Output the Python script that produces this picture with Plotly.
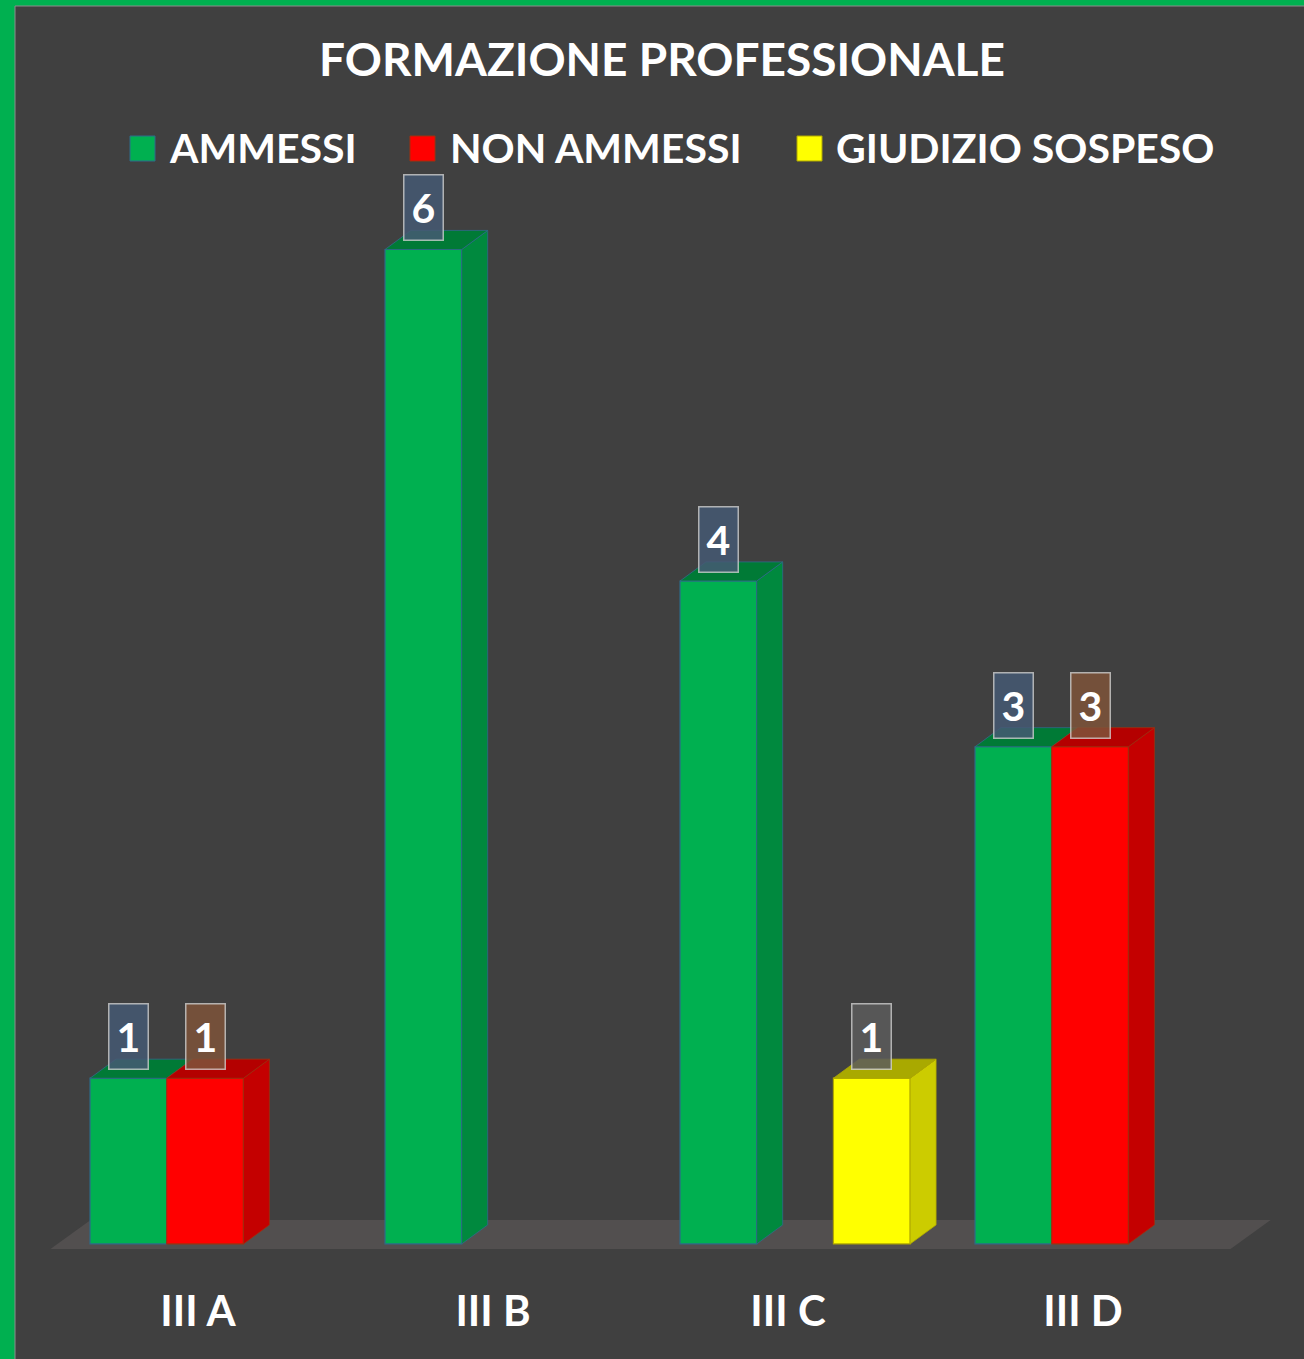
import plotly.graph_objects as go

# ---------------- data ----------------
title_text = "FORMAZIONE PROFESSIONALE"
categories = ["III A", "III B", "III C", "III D"]
series_names = ["AMMESSI", "NON AMMESSI", "GIUDIZIO SOSPESO"]
ammessi = [1, 6, 4, 3]
non_ammessi = [1, None, None, 3]
giudizio_sospeso = [None, None, 1, None]

# ---------------- styles ----------------
W, H = 1304, 1359
ML, MT = 15, 6
BG = "#404040"
BORDER = "#00B050"
FONT = "Lato"

front_cols = ["#00B050", "#FF0000", "#FFFF00"]
side_cols = ["#00893E", "#C40000", "#CCCC00"]
top_cols = ["#007A36", "#B40000", "#A9A900"]
edge_cols = ["#2E6B8A", "#A0300F", "#B0A800"]
label_bg = ["rgba(69,89,115,0.85)", "rgba(126,83,57,0.85)", "rgba(92,92,92,0.85)"]

slot_w = 0.26
offsets = [-0.366, -0.106, 0.154]
dx, dy = 0.088, 0.115          # 3D depth of bars (data units)
fdx, fdy = 0.136, 0.175        # depth of floor
floor_y = -0.03

x_range = [-0.6203, 3.7492]
y_range = [-0.694, 7.469]

def px_x(p):
    return (p - ML) / (W - ML)

def px_y(p):
    return 1 - (p - MT) / (H - MT)

series_vals = [ammessi, non_ammessi, giudizio_sospeso]
xs = list(range(len(categories)))

fig = go.Figure()

# front faces
for s, vals in enumerate(series_vals):
    fig.add_trace(go.Bar(
        x=xs, y=vals, width=slot_w, offset=offsets[s],
        marker=dict(color=front_cols[s], line=dict(color=edge_cols[s], width=1.2)),
        name=series_names[s], showlegend=False, hoverinfo="skip"))

# side and top faces (3D effect), computed from the values
for s, vals in enumerate(series_vals):
    for i, v in enumerate(vals):
        if v is None:
            continue
        a = i + offsets[s]
        b = a + slot_w
        nxt = series_vals[s + 1][i] if s + 1 < len(series_vals) else None
        if nxt is None or nxt < v:
            fig.add_trace(go.Scatter(
                x=[b, b + dx, b + dx, b, b], y=[0, dy, v + dy, v, 0],
                fill="toself", fillcolor=side_cols[s], mode="lines",
                line=dict(color=edge_cols[s], width=0.8),
                showlegend=False, hoverinfo="skip"))
        fig.add_trace(go.Scatter(
            x=[a, b, b + dx, a + dx, a], y=[v, v, v + dy, v + dy, v],
            fill="toself", fillcolor=top_cols[s], mode="lines",
            line=dict(color=edge_cols[s], width=0.8),
            showlegend=False, hoverinfo="skip"))

# data labels
annotations = []
for s, vals in enumerate(series_vals):
    for i, v in enumerate(vals):
        if v is None:
            continue
        annotations.append(dict(
            x=i + offsets[s] + slot_w / 2, y=v, xref="x", yref="y",
            text=f"<b>{v}</b>", showarrow=False, yanchor="bottom", yshift=8,
            font=dict(family=FONT, size=41, color="white"),
            bgcolor=label_bg[s], bordercolor="rgba(215,215,215,0.75)",
            borderwidth=1.5, borderpad=0, width=38, height=64))

# legend (manual, large squares)
legend_sq_x = [130, 410, 797]
legend_tx_x = [167, 448, 834]
shapes = []
for s, name in enumerate(series_names):
    shapes.append(dict(type="rect", xref="paper", yref="paper",
                       x0=px_x(legend_sq_x[s]), x1=px_x(legend_sq_x[s] + 25),
                       y0=px_y(161), y1=px_y(136),
                       fillcolor=front_cols[s], line=dict(color=edge_cols[s], width=1)))
    annotations.append(dict(
        x=px_x(legend_tx_x[s]), y=px_y(147), xref="paper", yref="paper",
        xanchor="left", yanchor="middle", showarrow=False,
        text=f"<b>{name}</b>", font=dict(family=FONT, size=41, color="white")))

# floor
n = len(categories)
shapes.append(dict(
    type="path", xref="x", yref="y", layer="below",
    path=(f"M {-0.5},{floor_y} L {n - 0.5},{floor_y} "
          f"L {n - 0.5 + fdx},{floor_y + fdy} L {-0.5 + fdx},{floor_y + fdy} Z"),
    fillcolor="#524F4F", line=dict(width=0)))

# inner thin frame lines
shapes.append(dict(type="line", xref="paper", yref="paper", x0=0, x1=0, y0=0, y1=1,
                   line=dict(color="#8C8C8C", width=1)))
shapes.append(dict(type="line", xref="paper", yref="paper", x0=0, x1=1, y0=1, y1=1,
                   line=dict(color="#8C8C8C", width=1)))

fig.update_layout(
    width=W, height=H,
    margin=dict(l=ML, r=0, t=MT, b=0, pad=0),
    paper_bgcolor=BORDER, plot_bgcolor=BG,
    barmode="overlay",
    title=dict(text=f"<b>{title_text}</b>", x=px_x(662), xref="paper", xanchor="center",
               y=1 - 60 / H, yref="container", yanchor="middle",
               font=dict(family=FONT, size=46, color="white")),
    xaxis=dict(range=x_range, tickvals=xs, ticktext=[f"<b>{c}</b>" for c in categories],
               showgrid=False, zeroline=False, showline=False, ticks="",
               anchor="free", position=px_y(1283),
               tickfont=dict(family=FONT, size=42, color="white"), fixedrange=True),
    yaxis=dict(range=y_range, visible=False, showgrid=False, zeroline=False, fixedrange=True),
    showlegend=False,
    annotations=annotations,
    shapes=shapes,
)

fig.write_html(
    "out.html",
    config={"displayModeBar": False},
    post_script="document.body.style.margin='0';document.body.style.overflow='hidden';",
)
